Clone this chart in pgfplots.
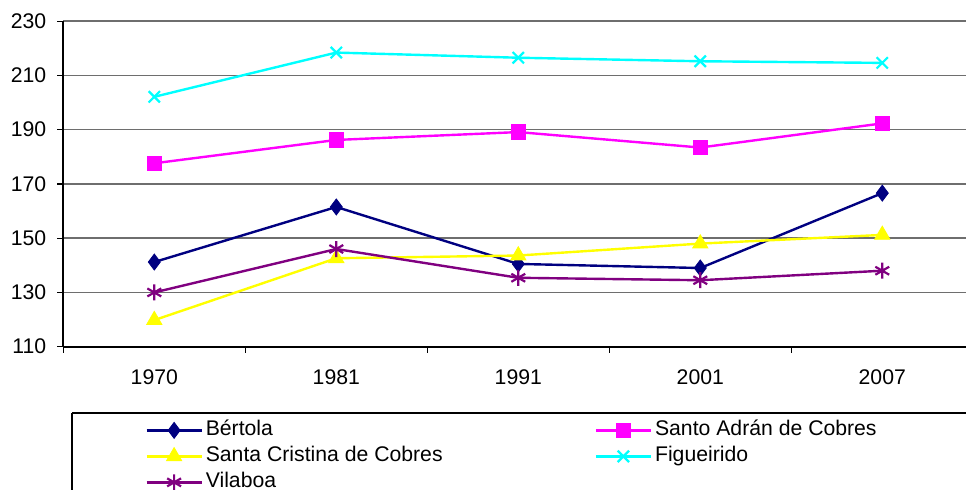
\documentclass[border=0pt]{standalone}
\usepackage{fontspec}
\setmainfont{Liberation Sans}
\usepackage{pgfplots}
\pgfplotsset{compat=1.18}

% Excel-like colours
\definecolor{bnavy}{RGB}{0,0,128}
\definecolor{bmagenta}{RGB}{255,0,255}
\definecolor{byellow}{RGB}{255,255,0}
\definecolor{bcyan}{RGB}{0,255,255}
\definecolor{bpurple}{RGB}{128,0,128}
\definecolor{gridgray}{RGB}{110,110,110}

\newcommand{\chartfont}{\fontsize{10.6}{12.7}\selectfont}

\begin{document}
\begin{tikzpicture}
% 1 px of the reference = 0.5pt
\begin{axis}[
    at={(31.65pt,71.15pt)}, anchor=south west,
    scale only axis,
    width=455pt, height=162.8pt,
    xmin=-0.5, xmax=4.5,
    ymin=110, ymax=230,
    ytick={110,130,...,230},
    xtick={-0.5,0.5,...,4.5},
    xticklabels={},
    extra x ticks={0,1,2,3,4},
    extra x tick labels={1970,1981,1991,2001,2007},
    extra x tick style={major tick length=0pt,
        tick label style={yshift=-8pt}},
    axis x line*=bottom,
    axis y line*=left,
    tick align=outside,
    major tick length=3pt,
    tick style={black, line width=0.6pt},
    axis line style={black, line width=0.9pt},
    ymajorgrids,
    major grid style={gridgray, line width=0.7pt},
    tick label style={font=\chartfont},
    /pgf/number format/assume math mode=true,
    yticklabel style={xshift=-2pt},
    legend columns=2,
    legend cell align=left,
    legend style={draw=none, fill=none,
        at={(0.0898,-0.2158)}, anchor=north west,
        inner xsep=0pt, inner ysep=0pt,
        font=\chartfont,
        nodes={inner sep=1.5pt, text height=7.5pt, text depth=2.5pt},
        row sep=0pt,
        /tikz/column 2/.style={column sep=74.5pt}},
    legend image code/.code={%
        \draw[mark repeat=2,mark phase=2,#1]
        plot coordinates {(0pt,0pt)(13.75pt,0pt)(27.5pt,0pt)};},
    every axis plot/.append style={line width=1.2pt},
]
\addplot[color=bnavy, mark=diamond*,
    mark options={solid, fill=bnavy, line width=0.4pt, mark size=4pt}]
    coordinates {(0,141.2)(1,161.5)(2,140.5)(3,139.0)(4,166.6)};
\addlegendentry{Bértola}
\addplot[color=bmagenta, mark=square*,
    mark options={solid, fill=bmagenta, line width=0.4pt, mark size=3.6pt}]
    coordinates {(0,177.6)(1,186.2)(2,189.1)(3,183.4)(4,192.3)};
\addlegendentry{Santo Adrán de Cobres}
\addplot[color=byellow, mark=triangle*,
    mark options={solid, fill=byellow, line width=0.4pt, mark size=4.4pt}]
    coordinates {(0,119.8)(1,142.6)(2,143.6)(3,148.0)(4,151.2)};
\addlegendentry{Santa Cristina de Cobres}
\addplot[color=bcyan, mark=x,
    mark options={solid, line width=1.1pt, mark size=4pt}]
    coordinates {(0,202.1)(1,218.4)(2,216.5)(3,215.2)(4,214.6)};
\addlegendentry{Figueirido}
\addplot[color=bpurple, mark=asterisk,
    mark options={solid, line width=1.1pt, mark size=4pt}]
    coordinates {(0,130.0)(1,146.0)(2,135.4)(3,134.5)(4,138.0)};
\addlegendentry{Vilaboa}
\end{axis}
% legend frame, running off the right and bottom edges as in the reference
\draw[black, line width=0.7pt] (36pt,-10pt) rectangle (36pt,38pt) -- (500pt,38pt);
\pgfresetboundingbox
\useasboundingbox (0pt,0pt) rectangle (483pt,244.5pt);
\end{tikzpicture}
\end{document}
